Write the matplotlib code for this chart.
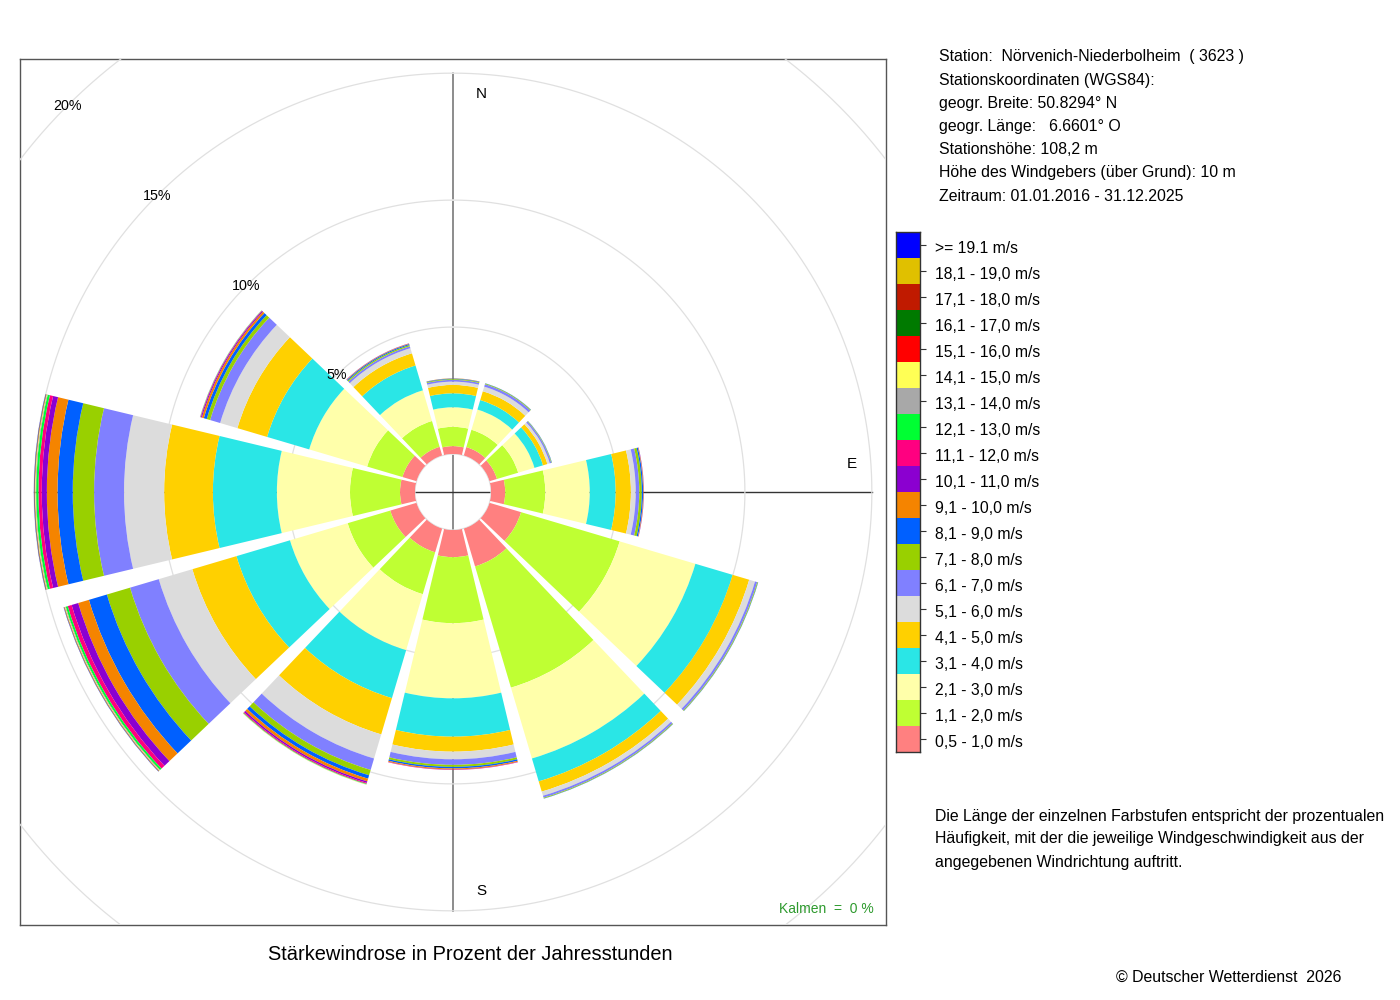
import numpy as np
import matplotlib
matplotlib.use('Agg')
import matplotlib.pyplot as plt
import matplotlib.transforms as mtransforms

plt.rcParams['font.family'] = ['Liberation Sans', 'DejaVu Sans']

# ---------------- data ----------------
directions_deg = [0, 30, 60, 90, 120, 150, 180, 210, 240, 270, 300, 330]

speed_classes = ["0,5 - 1,0 m/s", "1,1 - 2,0 m/s", "2,1 - 3,0 m/s", "3,1 - 4,0 m/s",
                 "4,1 - 5,0 m/s", "5,1 - 6,0 m/s", "6,1 - 7,0 m/s", "7,1 - 8,0 m/s",
                 "8,1 - 9,0 m/s", "9,1 - 10,0 m/s", "10,1 - 11,0 m/s", "11,1 - 12,0 m/s",
                 "12,1 - 13,0 m/s", "13,1 - 14,0 m/s", "14,1 - 15,0 m/s", "15,1 - 16,0 m/s",
                 "16,1 - 17,0 m/s", "17,1 - 18,0 m/s", "18,1 - 19,0 m/s", ">= 19.1 m/s"]

class_colors = ["#FF8080", "#BFFF33", "#FFFFAA", "#2AE6E6", "#FFD000", "#DCDCDC",
                "#8080FF", "#99D000", "#0060FF", "#F58400", "#8B00D0", "#FF0080",
                "#00FF33", "#A8A8A8", "#FFFF55", "#FF0000", "#007A00", "#C01A00",
                "#E0C000", "#0000FF"]

# percent of hours per speed class (lowest class first)
freq_N   = [0.31, 0.76, 0.77, 0.55, 0.33, 0.13, 0.07, 0.03, 0.02, 0.01]
freq_NNE = [0.35, 0.71, 0.83, 0.39, 0.36, 0.19, 0.10, 0.03, 0.01]
freq_ENE = [0.31, 0.87, 0.67, 0.35, 0.18, 0.10, 0.06, 0.02, 0.01]
freq_E   = [0.56, 1.58, 1.75, 1.02, 0.60, 0.19, 0.14, 0.10, 0.05, 0.02, 0.01]
freq_ESE = [1.30, 4.05, 3.11, 1.53, 0.68, 0.24, 0.09, 0.03, 0.01]
freq_SSE = [1.56, 4.98, 2.91, 0.94, 0.42, 0.17, 0.08, 0.03, 0.01]
freq_S   = [1.07, 2.60, 2.96, 1.51, 0.59, 0.30, 0.22, 0.08, 0.06, 0.04, 0.01, 0.01]
freq_SSW = [0.98, 1.72, 2.30, 1.97, 1.49, 0.99, 0.47, 0.22, 0.14, 0.11, 0.06, 0.04,
            0.02, 0.01, 0.01]
freq_WSW = [1.08, 1.75, 2.37, 2.20, 1.81, 1.38, 1.18, 0.95, 0.74, 0.44, 0.27, 0.16,
            0.08, 0.03, 0.02, 0.01, 0.01, 0.005, 0.005, 0.01]
freq_W   = [0.59, 1.97, 2.88, 2.52, 1.92, 1.58, 1.18, 0.84, 0.60, 0.42, 0.20, 0.13,
            0.09, 0.03, 0.02, 0.01, 0.01, 0.005, 0.005, 0.01]
freq_WNW = [0.58, 1.45, 2.38, 1.73, 1.22, 0.71, 0.41, 0.14, 0.12, 0.08, 0.04, 0.02,
            0.01, 0.01]
freq_NNW = [0.36, 1.06, 1.26, 1.02, 0.50, 0.21, 0.08, 0.05, 0.04, 0.02, 0.01]

sectors = [freq_N, freq_NNE, freq_ENE, freq_E, freq_ESE, freq_SSE,
           freq_S, freq_SSW, freq_WSW, freq_W, freq_WNW, freq_NNW]

ring_levels = [5, 10, 15, 20]
compass_labels = ["N", "E", "S"]

station_lines = ["Station:  Nörvenich-Niederbolheim  ( 3623 )",
                 "Stationskoordinaten (WGS84):",
                 "geogr. Breite: 50.8294° N",
                 "geogr. Länge:   6.6601° O",
                 "Stationshöhe: 108,2 m",
                 "Höhe des Windgebers (über Grund): 10 m",
                 "Zeitraum: 01.01.2016 - 31.12.2025"]
note_lines = ["Die Länge der einzelnen Farbstufen entspricht der prozentualen",
              "Häufigkeit, mit der die jeweilige Windgeschwindigkeit aus der",
              "angegebenen Windrichtung auftritt."]
title = "Stärkewindrose in Prozent der Jahresstunden"
calm_text = "Kalmen  =  0 %"
copyright_text = "© Deutscher Wetterdienst  2026"

# ---------------- layout ----------------
W, H = 1400, 1000
fig = plt.figure(figsize=(W / 100, H / 100), dpi=100)
fig.patch.set_facecolor('white')

cx, cy = 453, 492          # centre of the rose in pixels (from top-left)
px_per_pct = 25.39
hole_pct = 38 / px_per_pct
rmax = 23
R_px = (rmax + hole_pct) * px_per_pct

# frame box (cartesian, same scale as the rose)
ax_box = fig.add_axes([20 / W, 1 - 925 / H, 866 / W, 866 / H])
half = 433 / px_per_pct
ax_box.set_xlim(-half, half)
ax_box.set_ylim(-half, half)
ax_box.set_xticks([])
ax_box.set_yticks([])
for s in ax_box.spines.values():
    s.set_color('#555555')
    s.set_linewidth(1.0)
L = 15 + hole_pct
ax_box.plot([0, 0], [-L, L], color='#8c8c8c', lw=1.4, zorder=1)
ax_box.plot([-L, L], [0, 0], color='#333333', lw=1.0, zorder=1)

# polar rose
ax = fig.add_axes([(cx - R_px) / W, 1 - (cy + R_px) / H, 2 * R_px / W, 2 * R_px / H],
                  projection='polar')
ax.set_facecolor('none')
ax.patch.set_edgecolor('none')
ax.set_theta_zero_location('N')
ax.set_theta_direction(-1)
ax.set_ylim(0, rmax)
ax.set_rorigin(-hole_pct)
ax.set_xticks([])
ax.set_yticks([])
ax.grid(False)
for name in list(ax.spines.keys()):
    ax.spines[name].set_visible(False)
    ax.spines[name].set_color('none')
    ax.spines[name].set_linewidth(0)

theta_ring = np.linspace(0, 2 * np.pi, 1441)
for lvl in [0] + ring_levels:
    ln, = ax.plot(theta_ring, np.full_like(theta_ring, lvl), color='#e0e0e0', lw=0.9, zorder=0.5)
    ln.set_clip_path(ax_box.patch)

data = np.zeros((len(sectors), len(speed_classes)))
for i, s in enumerate(sectors):
    data[i, :len(s)] = s

theta_c = np.deg2rad(directions_deg)
width = np.deg2rad(27)
bottom = np.zeros(len(sectors))
for k in range(len(speed_classes)):
    ax.bar(theta_c, data[:, k], width=width, bottom=bottom, color=class_colors[k],
           edgecolor='none', linewidth=0, align='center', zorder=2)
    bottom += data[:, k]

for lvl in ring_levels:
    ax.text(np.deg2rad(315), lvl, f"{lvl}%", ha='center', va='center', fontsize=10.3, zorder=5)

# compass labels
off = 1.12
ax_box.text(off, 15.68, compass_labels[0], ha='center', va='center', fontsize=11)
ax_box.text(15.71, off, compass_labels[1], ha='center', va='center', fontsize=11)
ax_box.text(off, -15.71, compass_labels[2], ha='center', va='center', fontsize=11)

fig.text(874 / W, 1 - 909 / H, calm_text, ha='right', va='center', fontsize=10,
         color='#2e9a2e')

# legend strip
ax_leg = fig.add_axes([896 / W, 1 - 752 / H, 24 / W, 520 / H])
for k in range(len(speed_classes)):
    ax_leg.bar(0, 1, bottom=k, width=1, color=class_colors[k], linewidth=0)
ax_leg.set_xlim(-0.5, 0.5)
ax_leg.set_ylim(0, len(speed_classes))
ax_leg.set_xticks([])
ax_leg.yaxis.tick_right()
ax_leg.set_yticks(np.arange(len(speed_classes)) + 0.5)
ax_leg.set_yticklabels(speed_classes, fontsize=11.3)
ax_leg.tick_params(axis='y', length=4, width=0.8, pad=7, colors='#333333', labelcolor='black')
shift = mtransforms.ScaledTranslation(0, -2 / 100, fig.dpi_scale_trans)
for lbl in ax_leg.get_yticklabels():
    lbl.set_transform(lbl.get_transform() + shift)
for s in ax_leg.spines.values():
    s.set_color('#333333')
    s.set_linewidth(1.0)

# texts
for i, line in enumerate(station_lines):
    fig.text(939 / W, 1 - (57 + i * 23.2) / H, line, ha='left', va='center', fontsize=11.45)
for i, line in enumerate(note_lines):
    fig.text(935 / W, 1 - (816 + i * 23) / H, line, ha='left', va='center', fontsize=11.45)
fig.text(470 / W, 1 - 955 / H, title, ha='center', va='center', fontsize=14.4)
fig.text(1341 / W, 1 - 977 / H, copyright_text, ha='right', va='center', fontsize=11.45)

fig.savefig('out.png', dpi=100, facecolor='white')
